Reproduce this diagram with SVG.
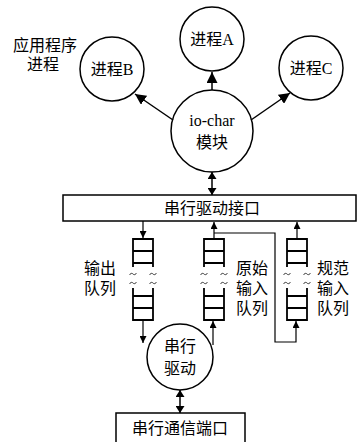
<svg xmlns="http://www.w3.org/2000/svg" width="357" height="442" viewBox="0 0 357 442">
<style>
text{font-family:"Liberation Serif","Noto Sans CJK SC",serif;font-size:16px;fill:#000;text-anchor:middle}
.n{fill:#fff;stroke:#000;stroke-width:1.5}
.c{fill:none;stroke:#000;stroke-width:1.5}
.q{fill:none;stroke:#000;stroke-width:1.8}
.w{fill:none;stroke:#000;stroke-width:0.8}
</style>
<defs>
<marker id="a" viewBox="0 0 10 10" refX="10" refY="5" markerWidth="7" markerHeight="7" orient="auto-start-reverse" markerUnits="userSpaceOnUse"><path d="M0,0L10,5L0,10z"/></marker>
<marker id="b" viewBox="0 0 10 10" refX="10" refY="5" markerWidth="11" markerHeight="11" orient="auto-start-reverse" markerUnits="userSpaceOnUse"><path d="M0,0L10,5L0,10z"/></marker>
<marker id="d" viewBox="0 0 8 10" refX="8" refY="5" markerWidth="7" markerHeight="9" preserveAspectRatio="none" orient="auto-start-reverse" markerUnits="userSpaceOnUse"><path d="M0,0L8,5L0,10z"/></marker>
<path id="t" d="M-3.5,1 C-2,-1.5 -0.5,-0.5 0,0 C0.5,0.5 2,1.5 3.5,-1"/>
<g id="qs">
<path d="M-10,267V239H10V267M-10,251H10M-10,263H10"/>
<path d="M-10,288V320H10V288M-10,296H10M-10,308H10"/>
</g>
</defs>
<g id="label-app"><text x="45" y="51">应用程序</text><text x="43" y="70">进程</text></g>
<g id="procA"><circle class="n" cx="212" cy="39" r="32"/><text x="212" y="45">进程A</text></g>
<g id="procB"><circle class="n" cx="112" cy="69" r="32"/><text x="112" y="75">进程B</text></g>
<g id="procC"><circle class="n" cx="311" cy="68" r="32"/><text x="311" y="74">进程C</text></g>
<g id="iochar"><circle class="n" cx="212" cy="131" r="41"/><text x="212" y="126">io-char</text><text x="212" y="148">模块</text></g>
<g id="sdi"><rect class="n" x="63" y="195" width="293" height="26"/><text x="212" y="214">串行驱动接口</text></g>
<g id="outq"><use href="#qs" x="143" class="q"/><text x="100" y="274">输出</text><text x="100" y="294">队列</text></g>
<g id="rawq"><use href="#qs" x="214" class="q"/><text x="252" y="274">原始</text><text x="252" y="294">输入</text><text x="252" y="314">队列</text></g>
<g id="canq"><use href="#qs" x="297" class="q"/><text x="333" y="274">规范</text><text x="333" y="294">输入</text><text x="333" y="314">队列</text></g>
<g id="waves" class="w">
<use href="#t" x="133" y="274"/><use href="#t" x="153" y="274"/><use href="#t" x="133" y="283"/><use href="#t" x="153" y="283"/>
<use href="#t" x="204" y="274"/><use href="#t" x="224" y="274"/><use href="#t" x="204" y="283"/><use href="#t" x="224" y="283"/>
<use href="#t" x="287" y="274"/><use href="#t" x="307" y="274"/><use href="#t" x="287" y="283"/><use href="#t" x="307" y="283"/>
</g>
<g id="sd"><circle class="n" cx="180" cy="357" r="33"/><text x="180" y="352">串行</text><text x="180" y="374">驱动</text></g>
<g id="port"><rect class="n" x="116" y="413" width="129" height="32"/><text x="180" y="434">串行通信端口</text></g>
<g id="connectors" class="c">
<line x1="212" y1="90" x2="212" y2="72" marker-end="url(#b)"/>
<path d="M173,120L135,94" marker-end="url(#b)"/>
<path d="M251,120L290,93" marker-end="url(#b)"/>
<line x1="212" y1="172" x2="212" y2="195" marker-start="url(#d)" marker-end="url(#d)"/>
<line x1="143" y1="221" x2="143" y2="238" stroke-width="1.2" marker-end="url(#a)"/>
<line x1="214" y1="239" x2="214" y2="222" stroke-width="1.2" marker-end="url(#a)"/>
<line x1="297" y1="239" x2="297" y2="222" stroke-width="1.2" marker-end="url(#a)"/>
<path d="M214,233H275V342H296V321" stroke-width="1.2" marker-end="url(#a)"/>
<line x1="143" y1="320" x2="143" y2="343" stroke-width="1.2" marker-end="url(#a)"/>
<line x1="213" y1="345" x2="213" y2="321" stroke-width="1.2" marker-end="url(#a)"/>
<line x1="180" y1="390" x2="180" y2="413" marker-start="url(#d)" marker-end="url(#d)"/>
</g>
</svg>
